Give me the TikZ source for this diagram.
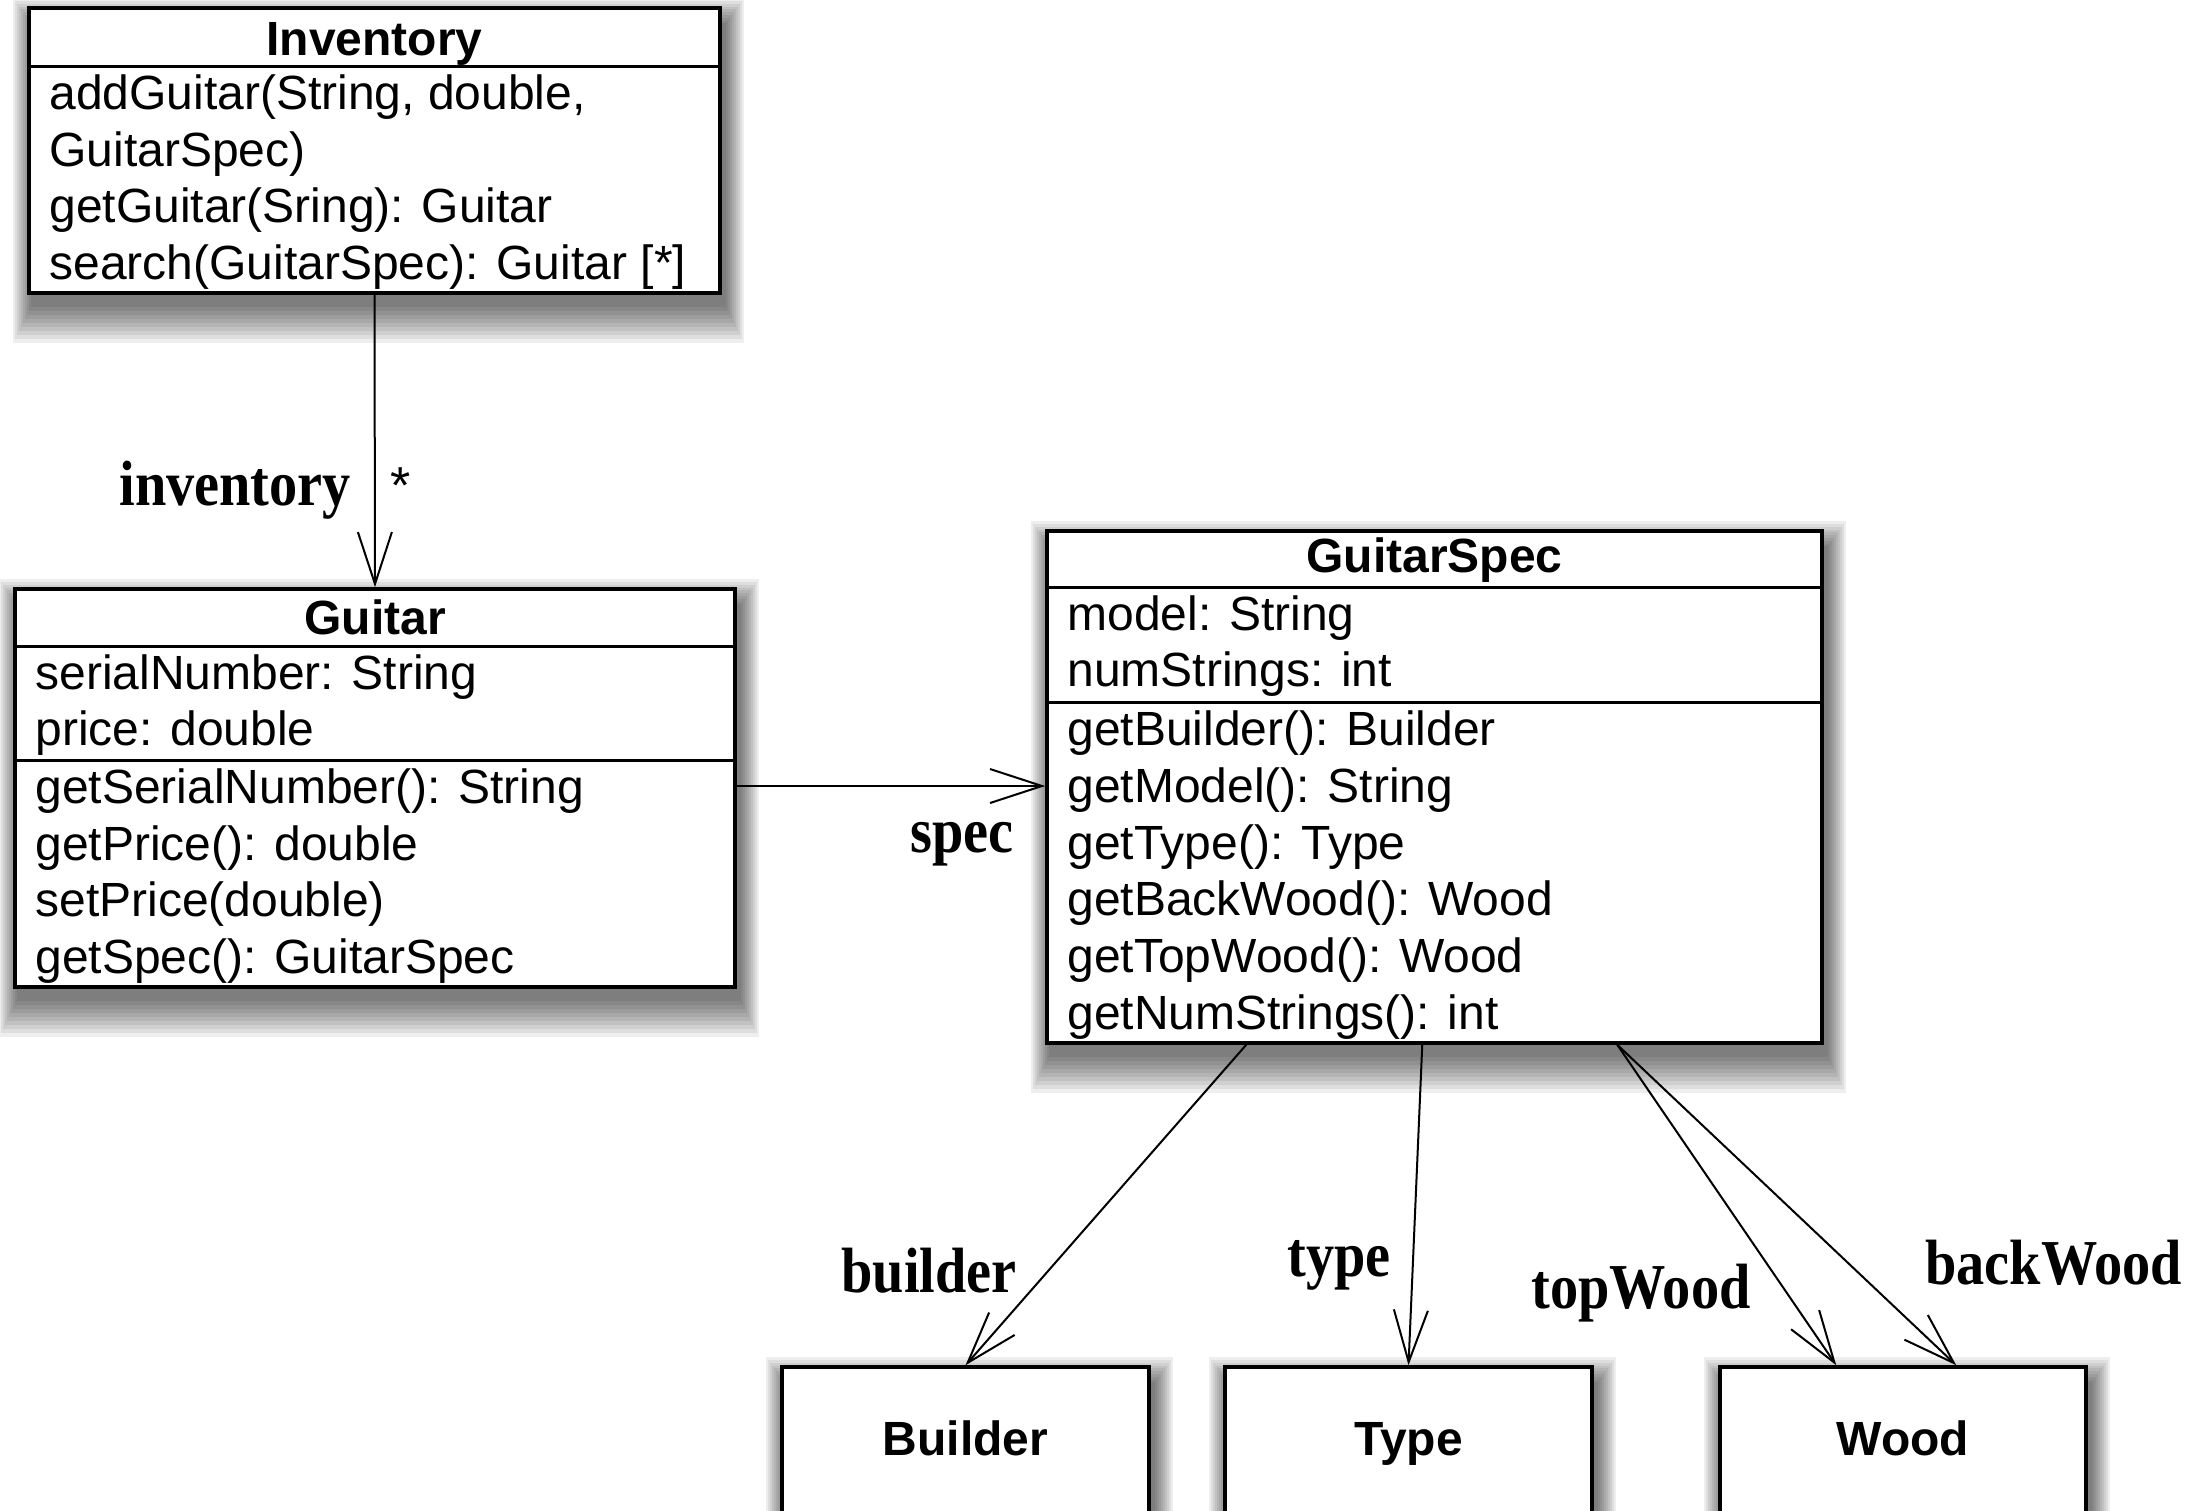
\documentclass[tikz,border=0pt]{standalone}
\usepackage{fontspec}
\setmainfont{Liberation Sans}
\newfontfamily\lblfont[FakeStretch=0.88]{Liberation Serif}
\usetikzlibrary{arrows.meta,fit,backgrounds}
\begin{document}
\begin{tikzpicture}[x=0.5pt,y=-0.5pt,
  box/.style={draw, line width=1.75pt, fill=white, inner sep=0pt},
  sep/.style={line width=1.5pt},
  hdr/.style={font=\fontsize{24}{28.4}\selectfont\bfseries, inner sep=0pt, anchor=base},
  txt/.style={font=\fontsize{24}{28.4}\selectfont, align=left, anchor=west, inner sep=0pt},
  lbl/.style={font=\fontsize{32}{36}\selectfont\lblfont\bfseries, anchor=base west, inner sep=0pt},
  assoc/.style={line width=1pt, -{Straight Barb[length=26pt,width=17pt]}}]
\useasboundingbox (0,0) rectangle (2198,1510);

% Inventory
\node[box, fit={(29,8) (720,293)}] (inv) {};
\draw[sep] (inv.west |- 0,66) -- (inv.east |- 0,66);
\node[hdr] (invh) at (inv.north |- 0,55) {Inventory};
\node[txt] (invm) at (49,182) {addGuitar(String, double,\\GuitarSpec)\\getGuitar(Sring): Guitar\\search(GuitarSpec): Guitar [*]};

% Guitar
\node[box, fit={(15,589) (735,987)}] (gtr) {};
\draw[sep] (gtr.west |- 0,646) -- (gtr.east |- 0,646);
\draw[sep] (gtr.west |- 0,760) -- (gtr.east |- 0,760);
\node[hdr] (gtrh) at (gtr.north |- 0,634) {Guitar};
\node[txt] (gtra) at (35,705) {serialNumber: String\\price: double};
\node[txt] (gtrm) at (35,876) {getSerialNumber(): String\\getPrice(): double\\setPrice(double)\\getSpec(): GuitarSpec};

% GuitarSpec
\node[box, fit={(1047,531) (1822,1043)}] (spec) {};
\draw[sep] (spec.west |- 0,587) -- (spec.east |- 0,587);
\draw[sep] (spec.west |- 0,702) -- (spec.east |- 0,702);
\node[hdr] (spech) at (spec.north |- 0,572) {GuitarSpec};
\node[txt] (speca) at (1067,646) {model: String\\numStrings: int};
\node[txt] (specm) at (1067,875) {getBuilder(): Builder\\getModel(): String\\getType(): Type\\getBackWood(): Wood\\getTopWood(): Wood\\getNumStrings(): int};

% bottom boxes
\node[box, fit={(782,1367) (1149,1545)}] (bld) {};
\node[box, fit={(1225,1367) (1592,1545)}] (typ) {};
\node[box, fit={(1720,1367) (2086,1545)}] (wood) {};
\node[hdr] (bldh) at (bld.north |- 0,1455) {Builder};
\node[hdr] (typh) at (typ.north |- 0,1455) {Type};
\node[hdr] (woodh) at (wood.north |- 0,1455) {Wood};

% background and soft shadows
\begin{pgfonlayer}{background}
\fill[white] (0,0) rectangle (2198,1510);
\foreach \n in {inv,gtr,spec,bld,typ,wood}{
  \foreach \e in {4,8,...,40}{
    \fill[black, opacity=0.065] ([shift={(6-0.5*\e,20-0.7*\e)}]\n.north west) rectangle ([shift={(2+0.5*\e,8+\e)}]\n.south east);
  }}
\end{pgfonlayer}

% connectors
\draw[assoc] (inv.south) -- (gtr.north);
\draw[assoc] (gtr.east |- 0,786) -- (spec.west |- 0,786);
\draw[assoc] ([shift={(201,0)}]spec.south west) -- (bld.north);
\draw[assoc] ([shift={(377,0)}]spec.south west) -- (typ.north);
\draw[assoc] ([shift={(572,0)}]spec.south west) -- ([shift={(118,0)}]wood.north west);
\draw[assoc] ([shift={(572,0)}]spec.south west) -- ([shift={(238,0)}]wood.north west);

% labels
\node[lbl] (linv) at (119,505) {inventory};
\node[font=\fontsize{26}{30}\selectfont, anchor=base west, inner sep=0pt] (lstar) at (390,503) {*};
\node[lbl] (lspec) at (910,852) {spec};
\node[lbl] (lbld) at (841,1292) {builder};
\node[lbl] (ltyp) at (1287,1276) {type};
\node[lbl] (ltop) at (1531,1308) {topWood};
\node[lbl] (lback) at (1925,1284) {backWood};
\end{tikzpicture}
\end{document}
